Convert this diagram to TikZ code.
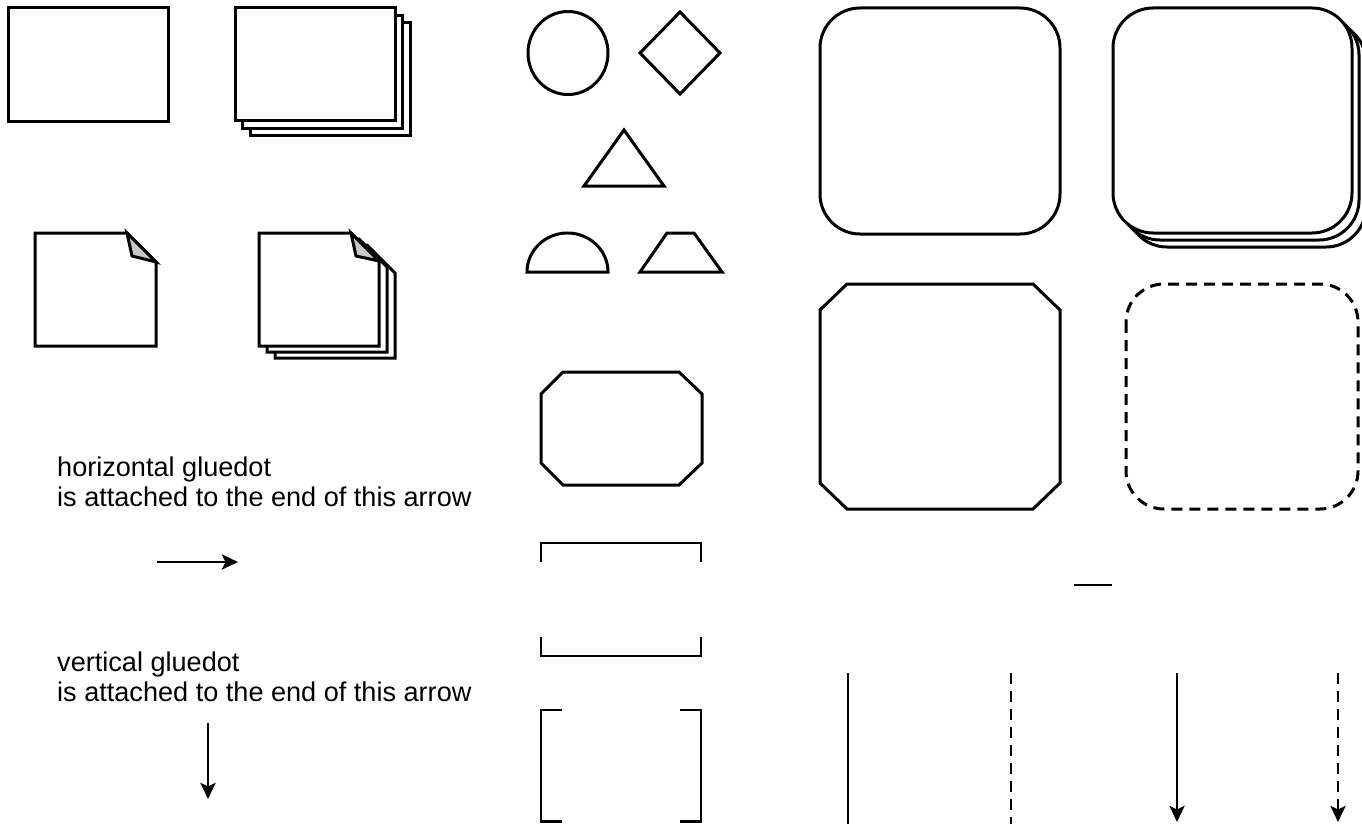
\documentclass[tikz,border=0pt]{standalone}
\usepackage{fontspec}
\setmainfont{Liberation Sans}
\usetikzlibrary{arrows.meta}
\definecolor{flapgray}{HTML}{C8C8C8}
\begin{document}
\begin{tikzpicture}[x=1pt,y=-1pt, line join=miter,
  shp/.style={draw=black, line width=3pt, fill=white},
  ln/.style={draw=black, line width=2.9pt},
  dsh/.style={dash pattern=on 11pt off 7pt},
  arr/.style={-{Stealth[length=16pt,width=15pt,inset=3.5pt]}},
  lbl/.style={anchor=base west, inner sep=0pt, font=\fontsize{27.1}{30}\selectfont}]
\useasboundingbox (0,0) rectangle (1362,824);

% plain rectangle
\draw[shp] (8,8) rectangle (168,122);
% stacked rectangle
\foreach \d in {15,7.5,0}{
  \draw[shp, shift={(\d,\d)}] (235,8) rectangle (395,121);
}
% note
\draw[shp] (35,233)--(127,233)--(156,262)--(156,346)--(35,346)--cycle;
\draw[shp, fill=flapgray] (127,233)--(132,256)--(156,262)--cycle;
% stacked note
\foreach \d/\e in {16/12,8/6,0/0}{
  \draw[shp, shift={(\d,\e)}] (259,233)--(351,233)--(379,261)--(379,346)--(259,346)--cycle;
}
\draw[shp, fill=flapgray] (351,233)--(356,256)--(379,261)--cycle;

% circle, diamond, triangle
\draw[shp] (568,53) ellipse [x radius=40, y radius=41.5];
\draw[shp] (680,12)--(720,53)--(680,94)--(640,53)--cycle;
\draw[shp] (624,130)--(664,186)--(584,186)--cycle;
% semicircle and trapezoid
\draw[shp] (527,272) arc [start angle=180, end angle=0, x radius=40.5, y radius=-39] -- cycle;
\draw[shp] (640,272)--(667,233)--(694,233)--(722,272)--cycle;
% small octagon
\draw[shp] (563,372)--(679,372)--(702,394)--(702,463)--(679,485)--(563,485)--(541,463)--(541,394)--cycle;
% brackets
\draw[ln] (541,562)--(541,543)--(701,543)--(701,562);
\draw[ln] (541,637)--(541,656)--(701,656)--(701,637);
\draw[ln] (562,710)--(541,710)--(541,821.5)--(562,821.5);
\draw[ln] (680,710)--(701,710)--(701,821.5)--(680,821.5);

% big rounded rect
\draw[shp, rounded corners=40pt] (820,8) rectangle (1060,234);
% stacked rounded rect
\foreach \d in {14,7,0}{
  \draw[shp, rounded corners=40pt, shift={(\d,\d)}] (1113,8) rectangle (1352,233);
}
% big octagon
\draw[shp] (847,284)--(1033,284)--(1060,310)--(1060,483)--(1033,509)--(847,509)--(820,483)--(820,310)--cycle;
% dashed rounded rect
\draw[shp, dsh, rounded corners=38pt] (1126,284) rectangle (1358,509);

% short line and vertical lines
\coordinate (s1) at (1074,585); \coordinate (s2) at (1112,585);
\draw[ln] (s1) -- (s2);
\coordinate (v1a) at (848,673); \coordinate (v1b) at (848,826);
\coordinate (v2a) at (1011,673); \coordinate (v2b) at (1011,826);
\coordinate (v3a) at (1177,673); \coordinate (v3b) at (1177,822);
\coordinate (v4a) at (1338,673); \coordinate (v4b) at (1338,822);
\draw[ln] (v1a) -- (v1b);
\draw[ln, dsh] (v2a) -- (v2b);
\draw[ln, arr] (v3a) -- (v3b);
\draw[ln, dsh, arr] (v4a) -- (v4b);

% texts
\node[lbl] (h1) at (57,476) {horizontal gluedot};
\node[lbl] (h2) at (57,506) {is attached to the end of this arrow};
\node[lbl] (g1) at (57,671) {vertical gluedot};
\node[lbl] (g2) at (57,701) {is attached to the end of this arrow};

% gluedot arrows
\coordinate (ha) at (157,562); \coordinate (hb) at (238,562);
\draw[ln, arr] (ha) -- (hb);
\coordinate (va) at (208,723); \coordinate (vb) at (208,799);
\draw[ln, arr] (va) -- (vb);
\end{tikzpicture}
\end{document}
